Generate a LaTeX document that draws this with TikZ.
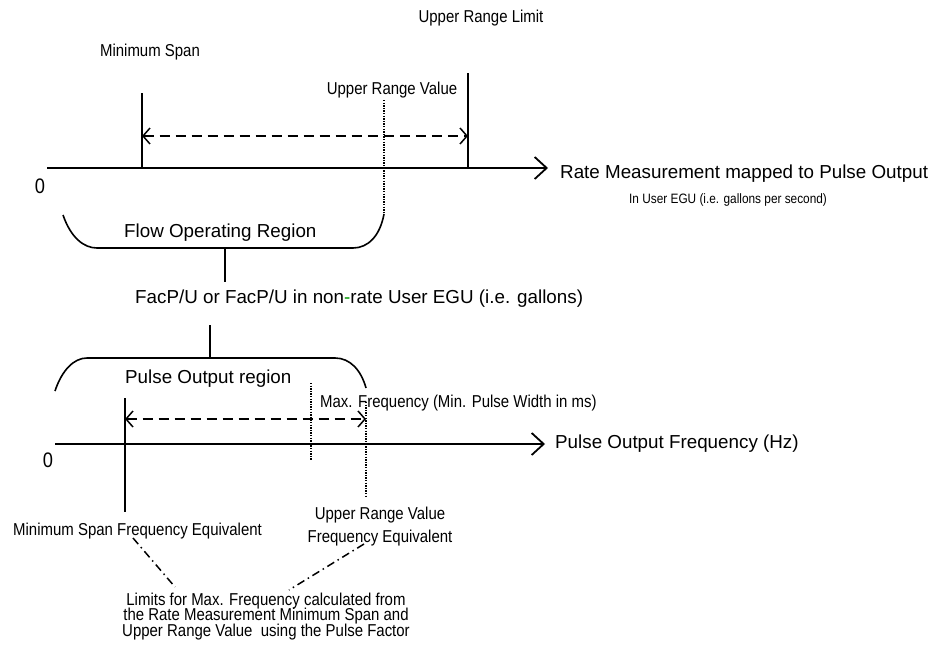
\documentclass[tikz,border=0pt]{standalone}
\usepackage{fontspec}
\setmainfont{Liberation Sans}
\newfontfamily\cnd[FakeStretch=0.87]{Liberation Sans}
\usetikzlibrary{arrows.meta}
\definecolor{hyph}{RGB}{0,153,0}
\tikzset{
  big/.style={inner sep=0pt, font=\fontsize{18.8}{22}\selectfont},
  small/.style={inner sep=0pt, font=\cnd\fontsize{17.2}{20}\selectfont},
  axisline/.style={line width=1.8pt, -{Straight Barb[length=12pt,width=22pt]}},
  tick/.style={line width=1.8pt},
  dotline/.style={line width=1.2pt, dash pattern=on 1.3pt off 1.3pt},
  spanarrow/.style={line width=1.5pt, dash pattern=on 10pt off 6pt,
    {Straight Barb[length=7pt,width=16pt]}-{Straight Barb[length=7pt,width=16pt]}},
  bracket/.style={line width=1.6pt},
  dashdot/.style={line width=1.5pt, dash pattern=on 8pt off 4pt on 1.5pt off 4pt}
}
\begin{document}
\begin{tikzpicture}[x=1pt,y=-1pt]
\useasboundingbox (0,0) rectangle (943,653);
% ---------- upper part ----------
\node[small, anchor=base] (url) at (481,23) {Upper Range Limit};
\node[small, anchor=base] (ms) at (150,56) {Minimum Span};
\node[small, anchor=base] (urv) at (392,94) {Upper Range Value};
\node[inner sep=0pt, anchor=base, font=\cnd\fontsize{21}{24}\selectfont] (z1) at (40,193) {0};
\node[big, anchor=base west] (rate) at (560,178) {Rate Measurement mapped to Pulse Output};
\node[inner sep=0pt, anchor=base west, font=\cnd\fontsize{13.6}{16}\selectfont] (egu) at (629,203) {In User EGU (i.e. gallons per second)};

\coordinate (a1s) at (47,168);
\coordinate (a1e) at (548,168);
\draw[axisline] (a1s) -- (a1e);

\coordinate (msT) at (142,93);
\coordinate (msB) at (142,168);
\coordinate (urlT) at (468,73);
\coordinate (urlB) at (468,168);
\draw[tick] (msT) -- (msB);
\draw[tick] (urlT) -- (urlB);

\coordinate (spL) at (142,136);
\coordinate (spR) at (468,136);
\draw[spanarrow] (spL) -- (spR);

\coordinate (urvT) at (384,100);
\coordinate (urvB) at (384,214);
\draw[dotline] (urvT) -- (urvB);

% flow operating region bracket
\coordinate (fL) at (63,215);
\coordinate (fL2) at (97,248);
\coordinate (fR2) at (353,248);
\coordinate (fM) at (225,248);
\coordinate (fS) at (225,282);
\draw[bracket] (fL) .. controls (71,238) and (84,248) .. (fL2) -- (fR2)
  .. controls (368,248) and (380,236) .. (urvB);
\draw[tick] (fM) -- (fS);
\node[big, anchor=base west] (flow) at (124,237) {Flow Operating Region};

\node[big, anchor=base west] (fac) at (135,303) {FacP/U or FacP/U in non\textcolor{hyph}{-}rate User EGU (i.e. gallons)};

% ---------- lower part ----------
\coordinate (pS) at (210,325);
\coordinate (pM) at (210,358);
\coordinate (pL) at (55,391);
\coordinate (pL2) at (87,358);
\coordinate (pR2) at (335,358);
\coordinate (pR) at (366,388);
\draw[tick] (pS) -- (pM);
\draw[bracket] (pL) .. controls (62,370) and (74,358) .. (pL2) -- (pR2)
  .. controls (350,358) and (361,370) .. (pR);
\node[big, anchor=base west] (pulse) at (125,383) {Pulse Output region};

\node[inner sep=0pt, anchor=base, font=\cnd\fontsize{21}{24}\selectfont] (z2) at (48,467) {0};
\coordinate (a2s) at (55,444);
\coordinate (a2e) at (545,444);
\draw[axisline] (a2s) -- (a2e);
\node[big, anchor=base west] (pof) at (555,448) {Pulse Output Frequency (Hz)};

\coordinate (mfT) at (125,398);
\coordinate (mfB) at (125,512);
\draw[tick] (mfT) -- (mfB);

\coordinate (mxT) at (311,383);
\coordinate (mxB) at (311,460);
\draw[dotline] (mxT) -- (mxB);

\coordinate (ufT) at (366,402);
\coordinate (ufB) at (366,498);

\coordinate (dL) at (125,419);
\coordinate (dR) at (366,419);
\draw[spanarrow] (dL) -- (dR);

\node[small, anchor=base west] (maxf) at (320,407) {Max. Frequency (Min. Pulse Width in ms)};
\draw[dotline] (ufT) -- (ufB);

\node[small, anchor=base west] (msfe) at (13,535) {Minimum Span Frequency Equivalent};
\node[small, anchor=base] (urvfe1) at (380,519) {Upper Range Value};
\node[small, anchor=base] (urvfe2) at (380,542) {Frequency Equivalent};

\node[small, anchor=base] (lim1) at (266,605) {Limits for Max. Frequency calculated from};
\node[small, anchor=base] (lim2) at (266,620.5) {the Rate Measurement Minimum Span and};
\node[small, anchor=base] (lim3) at (266,636) {Upper Range Value\ \ using the Pulse Factor};

\coordinate (ddL1) at (133,538);
\coordinate (ddL2) at (175,587);
\coordinate (ddR1) at (364,544);
\coordinate (ddR2) at (289,590);
\draw[dashdot] (ddL1) -- (ddL2);
\draw[dashdot] (ddR1) -- (ddR2);
\end{tikzpicture}
\end{document}
